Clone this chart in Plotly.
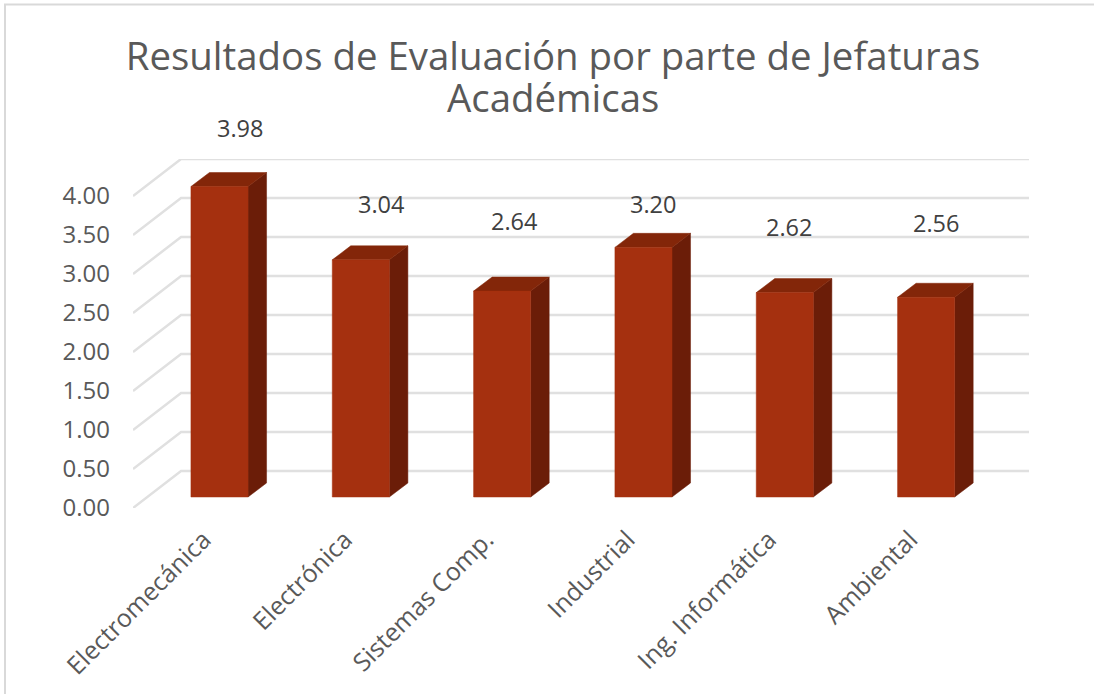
import plotly.graph_objects as go

# Datos del grafico
categories = ['Electromecánica', 'Electrónica', 'Sistemas Comp.', 'Industrial', 'Ing. Informática', 'Ambiental']
values = [3.98, 3.04, 2.64, 3.20, 2.62, 2.56]
y_ticks = [0, 0.5, 1, 1.5, 2, 2.5, 3, 3.5, 4]
title_line1 = 'Resultados de Evaluación por parte de Jefaturas'
title_line2 = 'Académicas'

# Manual nudges of the data labels, in pixels
label_shift_x = [21, 20, 12, 10, 4, 10]
label_shift_y = [59, 56, 70, 43, 66, 74]

# Oblique projection, in axis units
WALL_DX, WALL_DY = 0.34, 0.474    # floor depth
BAR_X0, BAR_Y0 = 0.112, 0.141     # bar front inside the floor
BAR_DX, BAR_DY = 0.131, 0.18      # bar depth
BAR_W = 0.404

FRONT = '#A5300F'
SIDE = '#6B1D08'
TOP = '#832609'
GRID = '#E0E0E0'
TEXT = '#595959'
FONT = 'Open Sans'


def add_face(fig, xs, ys, color):
    fig.add_trace(go.Scatter(x=xs, y=ys, mode='lines', fill='toself', fillcolor=color,
                             line=dict(color=color, width=0.5), hoverinfo='skip'))


fig = go.Figure()

# Back wall and left wall grid lines
for t in y_ticks:
    fig.add_trace(go.Scatter(x=[-0.5, -0.5 + WALL_DX, 5.5 + WALL_DX], y=[t, t + WALL_DY, t + WALL_DY],
                             mode='lines', line=dict(color=GRID, width=2.5), hoverinfo='skip'))

# Bars: side, top, then front
for i, v in enumerate(values):
    left = i + BAR_X0 - BAR_W / 2
    right = left + BAR_W
    low = BAR_Y0
    high = v + BAR_Y0
    add_face(fig, [right, right + BAR_DX, right + BAR_DX, right, right],
             [low, low + BAR_DY, high + BAR_DY, high, low], SIDE)
    add_face(fig, [left, left + BAR_DX, right + BAR_DX, right, left],
             [high, high + BAR_DY, high + BAR_DY, high, high], TOP)
    add_face(fig, [left, right, right, left, left], [low, low, high, high, low], FRONT)

# Data labels
for i, v in enumerate(values):
    fig.add_annotation(x=i + BAR_X0, y=v + BAR_Y0, text=f'{v:.2f}', showarrow=False,
                       xshift=label_shift_x[i], yshift=label_shift_y[i],
                       font=dict(family=FONT, size=23.5, color='#404040'))

# Second title line, closer than the library's line spacing
fig.add_annotation(xref='paper', yref='paper', x=(553 - 133) / 896, y=1 + (159 - 97) / 349, yanchor='middle',
                   text=title_line2, showarrow=False, font=dict(family=FONT, size=38.4, color=TEXT))

# Chart border
fig.add_shape(type='rect', xref='paper', yref='paper', x0=(5 - 133) / 896, x1=(1110 - 133) / 896,
              y0=-1, y1=1 + (159 - 4.5) / 349, line=dict(color='#D9D9D9', width=2), fillcolor='rgba(0,0,0,0)')

fig.update_layout(
    width=1094, height=694,
    margin=dict(l=133, r=65, t=159, b=186, pad=0),
    paper_bgcolor='white', plot_bgcolor='white',
    showlegend=False,
    font=dict(family=FONT, color=TEXT),
    title=dict(text=title_line1, x=553 / 1094, xanchor='center', y=1 - 57 / 694, yanchor='middle',
               font=dict(family=FONT, size=38.4, color=TEXT)),
    xaxis=dict(range=[-0.5, 5.5 + WALL_DX], tickvals=list(range(len(categories))), ticktext=categories,
               tickangle=-45, showgrid=False, zeroline=False, showline=False, ticks='',
               tickfont=dict(family=FONT, size=25, color=TEXT), ticklabelstandoff=11),
    yaxis=dict(range=[0, 4 + WALL_DY], tickvals=y_ticks, tickformat='.2f', showgrid=False, zeroline=False,
               showline=False, ticks='', tickfont=dict(family=FONT, size=24, color=TEXT), ticklabelstandoff=22),
)

fig.write_html("out.html", config=dict(displayModeBar=False),
               post_script="document.body.style.margin='0'")
